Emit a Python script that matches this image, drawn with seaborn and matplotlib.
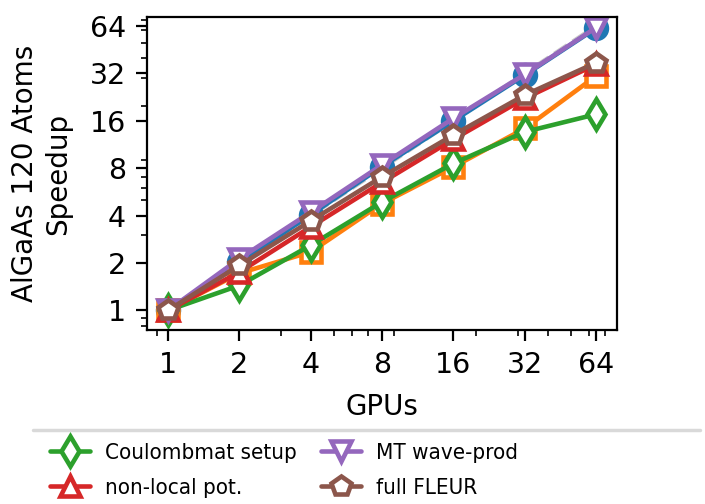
import numpy as np
import pandas as pd
import matplotlib
matplotlib.use("Agg")
import matplotlib.pyplot as plt
import seaborn as sns
from matplotlib.ticker import FixedLocator, ScalarFormatter, NullFormatter
from matplotlib.lines import Line2D
from matplotlib.font_manager import FontProperties

# --- data ---
gpus = [1, 2, 4, 8, 16, 32, 64]
ideal = [1, 2, 4, 8, 16, 32, 64]
blue_total = [1.0, 2.02, 4.05, 8.2, 16.0, 31.2, 62.0]
orange_part = [1.0, 1.72, 2.35, 4.77, 8.15, 14.3, 30.8]
coulombmat = [1.0, 1.44, 2.59, 4.88, 8.57, 13.6, 17.6]
nonlocal_pot = [1.0, 1.75, 3.39, 6.5, 12.2, 22.2, 36.5]
mt_wave = [1.0, 2.13, 4.2, 8.4, 16.6, 31.5, 62.5]
full_fleur = [1.0, 1.93, 3.7, 7.05, 13.0, 23.3, 37.4]

series_names = ["total", "other", "Coulombmat setup", "non-local pot.",
                "MT wave-prod", "full FLEUR"]
series_vals = [blue_total, orange_part, coulombmat, nonlocal_pot, mt_wave, full_fleur]
markers = ["o", "s", "d", "^", "v", "p"]
legend_names = ["Coulombmat setup", "non-local pot.", "MT wave-prod", "full FLEUR"]

df = pd.DataFrame({
    "GPUs": np.tile(gpus, len(series_names)),
    "speedup": np.concatenate(series_vals),
    "series": np.repeat(series_names, len(gpus)),
})

sns.set_style("ticks")
plt.rcParams["font.family"] = ["DejaVu Sans"]
plt.rcParams["axes.linewidth"] = 1.6
for k in ["text.color", "axes.labelcolor", "xtick.color", "ytick.color", "axes.edgecolor"]:
    plt.rcParams[k] = "black"

fig = plt.figure(figsize=(7.05, 5.04), dpi=100)
ax = fig.add_axes([0.2085, 0.3452, 0.6667, 0.621])

colors = sns.color_palette("tab10", 6)
msize = 15

# ideal scaling, dashed grey
ideal_df = pd.DataFrame({"GPUs": gpus, "speedup": ideal})
sns.lineplot(data=ideal_df, x="GPUs", y="speedup", ax=ax, color="0.78",
             lw=3, dashes=[(4, 2.5)], linestyle="--", legend=False)

for name, mk, col in zip(series_names, markers, colors):
    sub = df[df["series"] == name]
    face = col if mk == "o" else "white"
    sns.lineplot(data=sub, x="GPUs", y="speedup", ax=ax, color=col, lw=3.3,
                 marker=mk, markersize=msize, mew=3.3, mec=col, mfc=face,
                 label=name, legend=False)

ax.set_xscale("log")
ax.set_yscale("log")
ax.xaxis.set_major_locator(FixedLocator(gpus))
ax.yaxis.set_major_locator(FixedLocator(ideal))
ax.xaxis.set_major_formatter(ScalarFormatter())
ax.yaxis.set_major_formatter(ScalarFormatter())
ax.xaxis.set_minor_formatter(NullFormatter())
ax.yaxis.set_minor_formatter(NullFormatter())
ax.set_xlim(0.815, 78.5)
ax.set_ylim(0.75, 73)

ax.tick_params(axis="both", which="major", labelsize=20.5, length=8, width=1.6, pad=7)
ax.tick_params(axis="both", which="minor", length=4, width=1.2)
ax.set_xlabel("GPUs", fontsize=20, labelpad=10)
ax.set_ylabel("AlGaAs 120 Atoms\nSpeedup", fontsize=20, labelpad=13)

handles = [Line2D([], [], color=c, lw=3.3, marker=m, markersize=msize, mew=3.3,
                  mec=c, mfc="white")
           for n, m, c in zip(series_names, markers, colors) if n in legend_names]
leg_font = FontProperties(family="DejaVu Sans", stretch="condensed", size=16)
fig.legend(handles, legend_names, ncol=2, loc="upper left",
           bbox_to_anchor=(50 / 705, 0.122), frameon=False, prop=leg_font,
           borderpad=0, borderaxespad=0, handlelength=1.8, handletextpad=0.68,
           columnspacing=1.1, labelspacing=0.68)
fig.add_artist(Line2D([33 / 705, 700 / 705], [0.147, 0.147],
                      transform=fig.transFigure, color="0.85", lw=2.5))

fig.savefig("out.png", dpi=100)
